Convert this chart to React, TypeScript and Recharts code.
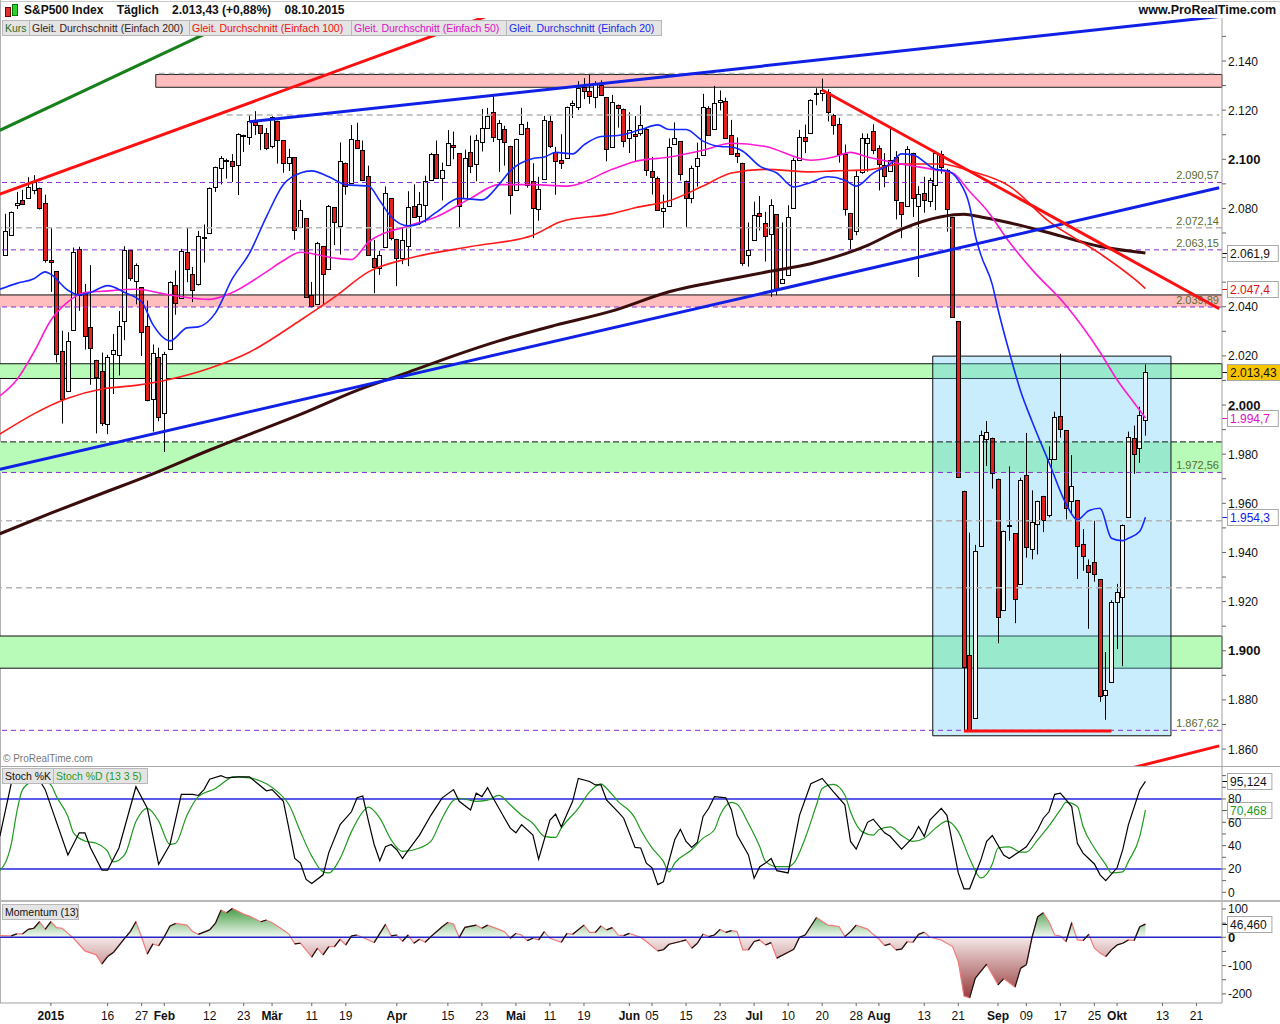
import React from "react";
import {
  ComposedChart, Bar, Line, Area, XAxis, YAxis, ReferenceLine, ReferenceArea,
} from "recharts";

const FONT = '"Liberation Sans", Arial, sans-serif';

// trading-day index: 0 = 02.01.2015, candles start at 19.12.2014 (-8)
const FIRST_IDX = -9;
const LAST_IDX = 206;
const CANDLE_START = -8;

const opens = [
  2061.04, 2069.28, 2081.48, 2083.25, 2084.30, 2087.63, 2088.49, 2082.11,
  2058.90, 2054.44, 2022.15, 2005.55, 2030.61, 2063.45, 2046.13, 2031.58, 2018.40, 2013.75,
  1992.25, 2020.76, 2020.19, 2034.30, 2062.98, 2050.42, 2047.86, 2032.34, 2002.45, 2019.35,
  1996.67, 2022.71, 2048.86, 2043.45, 2062.28, 2053.47, 2049.38, 2068.55, 2069.98, 2088.78,
  2096.47, 2099.16, 2099.25, 2097.65, 2109.83, 2109.10, 2115.30, 2113.91, 2110.88, 2105.23,
  2115.76, 2107.72, 2098.54, 2100.91, 2072.25, 2076.14, 2044.69, 2041.10, 2064.56, 2055.35,
  2080.59, 2072.84, 2098.69, 2090.32, 2107.99, 2103.94, 2093.10, 2059.94, 2055.78, 2064.11,
  2084.05, 2067.63, 2060.03, 2064.87, 2080.79, 2076.94, 2081.29, 2091.51, 2102.03, 2092.28,
  2097.82, 2105.96, 2102.58, 2084.11, 2102.82, 2098.27, 2107.21, 2112.80, 2119.29, 2108.35,
  2112.49, 2105.52, 2087.38, 2110.23, 2112.63, 2091.26, 2079.96, 2092.13, 2115.56, 2102.87,
  2099.62, 2100.43, 2122.07, 2121.30, 2129.45, 2127.79, 2125.55, 2130.36, 2125.34, 2105.13,
  2122.27, 2120.66, 2108.64, 2110.41, 2110.64, 2112.35, 2095.09, 2092.34, 2079.07, 2081.12,
  2106.24, 2107.43, 2091.34, 2084.26, 2097.40, 2101.58, 2121.06, 2112.50, 2123.16, 2123.65,
  2109.96, 2102.62, 2098.63, 2061.19, 2067.00, 2078.03, 2073.95, 2069.52, 2077.66, 2049.73,
  2052.74, 2080.03, 2099.72, 2109.01, 2110.55, 2126.80, 2126.85, 2127.55, 2118.21, 2114.16,
  2102.24, 2078.19, 2070.75, 2094.70, 2106.78, 2111.60, 2104.49, 2097.68, 2095.27, 2100.75,
  2082.61, 2080.98, 2102.66, 2081.10, 2086.19, 2083.15, 2089.70, 2101.99, 2095.69, 2076.61,
  2034.08, 1965.15, 1898.08, 1872.75, 1942.77, 1986.06, 1986.73, 1970.09, 1916.52, 1950.79,
  1947.76, 1927.30, 1971.45, 1941.59, 1951.45, 1963.06, 1955.10, 1978.02, 1995.33, 1989.66,
  1960.84, 1961.39, 1943.24, 1934.81, 1935.93, 1929.18, 1881.90, 1887.14, 1919.65, 1921.77,
  1954.33, 1986.63, 1982.34, 1994.01,
];
const highs = [
  2077.85, 2078.76, 2086.73, 2087.56, 2092.70, 2093.55, 2088.49, 2085.58,
  2072.36, 2054.44, 2030.25, 2029.61, 2064.08, 2064.43, 2049.30, 2056.93, 2018.40, 2021.35,
  2020.46, 2028.94, 2038.29, 2064.62, 2062.98, 2057.62, 2047.86, 2042.49, 2024.64, 2023.32,
  2021.66, 2050.30, 2054.74, 2063.55, 2072.40, 2056.16, 2070.86, 2073.48, 2088.53, 2097.03,
  2101.30, 2100.23, 2102.13, 2110.61, 2110.05, 2117.94, 2119.59, 2113.91, 2112.74, 2117.52,
  2115.76, 2107.72, 2104.25, 2100.91, 2083.49, 2076.14, 2050.08, 2066.41, 2064.56, 2081.41,
  2080.59, 2106.85, 2098.69, 2113.92, 2114.86, 2107.63, 2097.43, 2067.15, 2062.83, 2088.97,
  2084.05, 2067.63, 2072.17, 2086.99, 2089.81, 2086.69, 2093.31, 2102.61, 2107.65, 2098.62,
  2111.91, 2111.30, 2102.58, 2103.94, 2109.64, 2109.98, 2120.49, 2120.92, 2125.92, 2116.04,
  2113.65, 2105.52, 2108.41, 2120.95, 2115.24, 2098.42, 2092.90, 2117.66, 2117.69, 2105.06,
  2110.19, 2121.45, 2123.89, 2131.78, 2133.02, 2134.72, 2131.79, 2132.15, 2125.34, 2126.22,
  2122.27, 2120.66, 2119.15, 2117.59, 2121.92, 2112.89, 2100.99, 2093.01, 2085.62, 2108.50,
  2115.02, 2107.43, 2091.34, 2097.40, 2106.79, 2126.65, 2121.64, 2129.87, 2128.03, 2125.10,
  2116.04, 2108.92, 2098.63, 2074.28, 2082.78, 2085.06, 2078.61, 2083.74, 2077.66, 2074.28,
  2081.31, 2100.67, 2111.98, 2114.14, 2124.42, 2128.91, 2132.82, 2128.49, 2118.51, 2116.87,
  2106.01, 2078.19, 2095.60, 2110.60, 2110.48, 2114.24, 2105.70, 2102.51, 2112.66, 2103.32,
  2082.61, 2105.35, 2102.66, 2089.06, 2092.93, 2092.45, 2102.87, 2103.47, 2096.17, 2076.61,
  2034.08, 1965.15, 1948.04, 1943.09, 1989.60, 1993.48, 1986.73, 1970.09, 1948.91, 1975.01,
  1947.76, 1970.42, 1988.63, 1965.29, 1961.05, 1963.06, 1983.19, 1997.26, 2020.86, 1989.66,
  1979.64, 1961.39, 1949.52, 1937.17, 1952.89, 1929.18, 1899.48, 1920.53, 1927.21, 1951.36,
  1989.17, 1991.62, 1999.31, 2016.50,
];
const lows = [
  2061.03, 2069.28, 2079.77, 2081.86, 2084.30, 2085.75, 2079.53, 2057.94,
  2046.04, 2017.34, 1992.44, 2005.55, 2030.61, 2038.33, 2022.58, 2008.25, 1988.44, 1991.47,
  1988.12, 2004.49, 2012.04, 2026.38, 2050.54, 2040.97, 2019.91, 2001.49, 1989.18, 1993.38,
  1980.90, 2022.71, 2036.72, 2043.45, 2049.97, 2041.88, 2048.62, 2057.99, 2069.98, 2086.70,
  2089.80, 2092.15, 2090.79, 2085.44, 2103.00, 2105.87, 2109.89, 2103.76, 2103.75, 2104.50,
  2098.26, 2094.49, 2095.22, 2067.27, 2072.21, 2044.16, 2039.69, 2041.10, 2041.17, 2055.35,
  2065.08, 2061.23, 2085.56, 2090.32, 2104.42, 2091.50, 2061.05, 2045.50, 2052.96, 2064.11,
  2067.04, 2048.38, 2057.32, 2056.52, 2076.10, 2073.30, 2074.29, 2091.51, 2092.33, 2083.24,
  2097.82, 2100.02, 2072.37, 2084.11, 2094.38, 2091.05, 2103.19, 2112.80, 2107.04, 2094.89,
  2097.41, 2077.59, 2087.38, 2110.23, 2088.46, 2067.93, 2074.99, 2092.13, 2104.58, 2085.57,
  2096.04, 2100.43, 2116.81, 2120.01, 2124.50, 2122.59, 2120.80, 2126.06, 2099.18, 2105.13,
  2112.86, 2104.89, 2102.54, 2099.14, 2109.61, 2093.23, 2085.67, 2079.11, 2072.14, 2081.12,
  2106.24, 2091.33, 2072.49, 2082.10, 2088.86, 2101.58, 2109.45, 2112.50, 2119.89, 2108.58,
  2101.78, 2098.46, 2056.64, 2056.32, 2067.00, 2071.02, 2058.40, 2044.02, 2044.66, 2049.73,
  2052.74, 2080.03, 2099.72, 2102.49, 2110.55, 2122.01, 2123.66, 2115.40, 2110.00, 2098.63,
  2077.09, 2063.52, 2069.09, 2094.08, 2094.97, 2102.07, 2087.31, 2088.60, 2095.27, 2075.53,
  2067.91, 2080.98, 2076.49, 2052.09, 2078.26, 2080.61, 2079.30, 2094.14, 2070.53, 2035.73,
  1970.89, 1867.01, 1867.08, 1872.75, 1942.77, 1975.19, 1965.98, 1903.07, 1916.52, 1944.72,
  1911.21, 1927.30, 1937.88, 1937.19, 1939.19, 1948.27, 1954.30, 1977.93, 1986.73, 1953.45,
  1955.80, 1929.22, 1932.57, 1908.92, 1928.13, 1879.21, 1871.91, 1887.14, 1900.70, 1893.70,
  1954.33, 1971.99, 1976.44, 1987.53,
];
const closes = [
  2070.65, 2078.54, 2082.17, 2081.88, 2088.77, 2090.57, 2080.35, 2058.90,
  2058.20, 2020.58, 2002.61, 2025.90, 2062.14, 2044.81, 2028.26, 2023.03, 2011.27, 1992.67,
  2019.42, 2022.55, 2032.12, 2063.15, 2051.82, 2057.09, 2029.55, 2002.16, 2021.25, 1994.99,
  2020.85, 2050.03, 2041.51, 2062.52, 2055.47, 2046.74, 2068.59, 2068.53, 2088.48, 2096.99,
  2100.34, 2099.68, 2097.45, 2110.30, 2109.66, 2115.48, 2113.86, 2110.74, 2104.50, 2117.39,
  2107.78, 2098.53, 2101.04, 2071.26, 2079.43, 2044.16, 2040.24, 2065.95, 2053.40, 2081.19,
  2074.28, 2099.50, 2089.27, 2108.10, 2104.42, 2091.50, 2061.05, 2056.15, 2061.02, 2086.24,
  2067.89, 2059.69, 2066.96, 2080.62, 2076.33, 2081.90, 2091.18, 2102.06, 2092.43, 2095.84,
  2106.63, 2104.99, 2081.18, 2100.40, 2097.29, 2107.96, 2112.93, 2117.69, 2108.92, 2114.76,
  2106.85, 2085.51, 2108.29, 2114.49, 2089.46, 2080.15, 2088.00, 2116.10, 2105.33, 2099.12,
  2098.48, 2121.10, 2122.73, 2129.20, 2127.83, 2125.85, 2130.82, 2126.06, 2104.20, 2123.48,
  2120.79, 2107.39, 2111.73, 2109.60, 2114.07, 2095.84, 2092.83, 2079.28, 2080.15, 2105.20,
  2108.86, 2094.11, 2084.43, 2096.29, 2100.44, 2121.24, 2109.99, 2122.85, 2124.20, 2108.58,
  2102.31, 2101.49, 2057.64, 2063.11, 2077.42, 2076.78, 2068.76, 2081.34, 2046.68, 2051.31,
  2076.62, 2099.60, 2108.95, 2107.40, 2124.29, 2126.64, 2128.28, 2119.21, 2114.15, 2102.15,
  2079.65, 2067.64, 2093.25, 2108.57, 2108.63, 2103.84, 2098.04, 2093.32, 2099.84, 2083.56,
  2077.57, 2104.18, 2084.07, 2086.05, 2083.39, 2091.54, 2102.44, 2096.92, 2079.61, 2035.73,
  1970.89, 1893.21, 1867.61, 1940.51, 1987.66, 1988.87, 1972.18, 1913.85, 1948.86, 1951.13,
  1921.22, 1969.41, 1942.04, 1952.29, 1961.05, 1953.03, 1978.09, 1995.31, 1990.20, 1958.03,
  1966.97, 1942.74, 1938.76, 1932.24, 1931.34, 1881.77, 1884.09, 1920.03, 1923.82, 1951.36,
  1987.05, 1979.92, 1995.83, 2013.43,
];

// moving averages: [day index, value]
const ma200 = [
  [-9, 1947.6], [0, 1956], [9, 1964], [18, 1972], [28, 1981.7], [36, 1989], [44, 1996.2],
  [54, 2006], [63, 2013.3], [71, 2020], [79, 2026.1], [89, 2032.5], [99, 2038.3], [109, 2046.1],
  [120, 2051.4], [127, 2054.5], [134, 2057.5], [140, 2061.5], [144, 2065], [150, 2071.6],
  [157, 2076.6], [161, 2077.6], [164, 2076.5], [169, 2074.2], [176, 2070.1], [185, 2064.5], [193, 2061.9],
];
const ma100 = [
  [-9, 1988.2], [3, 2002.8], [9, 2006.5], [15, 2008], [21, 2010.5], [28, 2015], [35, 2021.5],
  [44, 2034.5], [50, 2043.9], [56, 2054.2], [63, 2059.6], [74, 2064.5], [85, 2069.1], [90, 2074.7],
  [99, 2077.9], [103, 2080.3], [109, 2083.1], [115, 2089.1], [120, 2094.4], [126, 2095.9],
  [134, 2094.9], [138, 2095.3], [144, 2095.7], [150, 2098.1], [157, 2098.1], [162, 2095.3],
  [169, 2089.1], [176, 2074.7], [185, 2061.6], [191, 2051.4], [193, 2047.4],
];
const ma50 = [
  [-9, 2003.7], [-6, 2010.3], [-3, 2021.5], [0, 2034.5], [3, 2042], [6, 2045.8], [9, 2046.3],
  [15, 2047.1], [21, 2044.8], [28, 2043], [32, 2045.8], [38, 2054.2], [41, 2058.8], [44, 2062.2],
  [50, 2059.8], [53, 2059.2], [56, 2066.3], [63, 2072.9], [68, 2076.6], [74, 2084.1], [79, 2089.7],
  [85, 2089.7], [91, 2089.1], [99, 2095.9], [103, 2099.1], [109, 2100.9], [115, 2103.7],
  [120, 2106.5], [126, 2105.2], [134, 2099.6], [138, 2100.9], [141, 2102.8], [144, 2100.9],
  [150, 2098.1], [156, 2095.7], [159, 2094.4], [162, 2086.9], [165, 2079.4], [169, 2066.3],
  [173, 2055.1], [179, 2040.5], [185, 2021.5], [188, 2010.3], [191, 2000.9], [193, 1994.7],
];
const ma20 = [
  [-9, 2047.1], [-6, 2049.5], [-3, 2051.4], [-1, 2054.2], [0, 2053.2], [3, 2046.7], [5, 2044.8],
  [7, 2045.8], [10, 2048.6], [13, 2045.8], [16, 2042], [18, 2032.7], [21, 2026.1], [24, 2031.4],
  [26, 2031.8], [29, 2037.4], [32, 2051.4], [35, 2061.7], [38, 2076.6], [41, 2089.7], [44, 2094.4],
  [46, 2095.3], [49, 2092.9], [52, 2089.7], [56, 2089.1], [58, 2083.1], [60, 2076.6], [63, 2072.9],
  [65, 2073.8], [68, 2078.5], [72, 2084.1], [76, 2083.5], [79, 2089.7], [81, 2095.3], [85, 2100.3],
  [87, 2100.9], [89, 2102.8], [92, 2102.2], [94, 2105.9], [97, 2109.3], [100, 2109.7], [104, 2112.1],
  [107, 2114], [109, 2112.1], [112, 2112.1], [115, 2107.4], [118, 2105.2], [120, 2105], [122, 2103.3],
  [125, 2097.2], [128, 2094.4], [131, 2088.7], [134, 2090.6], [137, 2092.9], [140, 2091.5],
  [142, 2089.1], [145, 2094.4], [148, 2098.1], [150, 2102.2], [152, 2101.8], [156, 2095.9],
  [158, 2095.3], [160, 2091.5], [162, 2081], [163, 2069], [164, 2061], [166, 2049], [167, 2039],
  [169, 2021.5], [171, 2005.6], [173, 1993.4], [176, 1976.6], [179, 1959.8], [181, 1953.3],
  [183, 1957], [185, 1958], [187, 1945.8], [189, 1944.8], [190, 1945.8], [192, 1948.6], [193, 1954.3],
];

const stochK = [
  [-9, 48], [-7, 93], [-6, 99], [-5, 99], [-2, 96], [-1, 88], [3, 32], [5, 51], [6, 51], [7, 38],
  [9, 19], [10, 19], [12, 38], [15, 90.5], [17, 72], [19, 24], [21, 41], [23, 84], [25, 84], [26, 83],
  [27, 88], [28, 97], [30, 100], [31, 98], [33, 99], [35, 99], [36, 95], [38, 87], [39, 88], [41, 78],
  [42, 54], [43, 29], [44, 25], [45, 11], [46, 7.5], [48, 15], [49, 34], [51, 58], [53, 69], [54, 81],
  [55, 82.5], [56, 61], [57, 41], [58, 27], [59, 39], [60, 41], [61, 36.5], [62, 29], [63, 36],
  [65, 49], [67, 66], [69, 81], [71, 88], [72, 78], [74, 70.6], [75, 85], [76, 82], [77, 89.7],
  [78, 80.6], [80, 63.5], [81, 55], [82, 51], [83, 58], [85, 49], [86, 28.5], [88, 62], [89, 67],
  [90, 56], [92, 78], [93, 97.6], [95, 95], [96, 92], [97, 92], [98, 79], [100, 69], [101, 63.5],
  [103, 38.5], [104, 38], [105, 25], [106, 21], [107, 6.6], [108, 9], [110, 45], [111, 54],
  [112, 43.6], [113, 38.5], [114, 43], [115, 65], [116, 72], [117, 82], [119, 81], [120, 70.6],
  [121, 49], [123, 32], [124, 12], [125, 22], [126, 25], [127, 29], [128, 18.6], [130, 16.6],
  [132, 66], [134, 93], [136, 97.6], [138, 86], [140, 75], [141, 43.6], [142, 37], [144, 60],
  [145, 62.7], [147, 51], [148, 48], [150, 37], [152, 47], [153, 56.4], [154, 48], [155, 62],
  [157, 72], [158, 66], [160, 16.6], [161, 3], [162, 3], [164, 28], [165, 43.6], [166, 48.7],
  [168, 32], [169, 29], [171, 35.6], [172, 39], [174, 53.6], [175, 63.5], [176, 69], [177, 84],
  [178, 85], [180, 73.5], [181, 42], [182, 33.6], [184, 24.3], [185, 15], [186, 10], [188, 21],
  [189, 36.5], [190, 58], [192, 87.7], [193, 95.124],
];
const stochD = [
  [-9, 18.6], [-7, 41], [-6, 69], [-5, 88], [-3, 96], [-2, 97.6], [0, 92], [1, 82], [3, 65], [4, 51],
  [6, 44], [8, 42], [10, 35], [11, 26], [13, 32], [15, 60.7], [17, 72], [19, 61], [21, 41], [22, 42],
  [24, 66], [26, 82], [29, 89], [31, 96], [32, 99], [35, 98], [38, 93], [40, 86], [42, 75], [44, 52],
  [46, 31], [48, 17.5], [49, 16.6], [51, 29], [53, 52], [55, 69], [56, 73], [58, 63.5], [60, 45],
  [62, 35], [65, 38], [67, 43.6], [69, 63.5], [71, 79], [72, 80.6], [75, 78], [77, 79], [79, 83],
  [81, 75], [83, 66], [85, 59], [87, 48], [89, 47], [90, 55], [93, 72], [95, 86], [97, 93], [98, 89],
  [100, 78], [103, 63.5], [104, 53.6], [106, 38], [108, 26.5], [109, 17.4], [110, 25], [113, 36.5],
  [115, 46.4], [117, 53.6], [118, 66], [120, 77], [121, 75.5], [123, 59], [125, 39], [126, 26.5],
  [128, 22], [130, 22], [131, 25], [133, 46.4], [135, 75], [136, 89], [138, 92.5], [140, 83.4],
  [141, 69], [143, 52], [145, 49], [146, 53.6], [148, 56], [150, 48.7], [152, 43.6], [154, 46.4],
  [156, 55], [158, 61], [160, 52], [162, 29], [164, 12.3], [166, 24.3], [167, 38], [169, 39],
  [171, 34.5], [172, 34.5], [174, 45], [176, 57], [178, 70.6], [179, 77], [181, 73.5], [182, 56.4],
  [184, 38], [186, 23.7], [187, 16.6], [189, 17.5], [190, 26.5], [192, 48], [193, 70.468],
];
const momentum = [
  [-9, 6], [-7, 5], [-6, 12], [-5, 12], [-4, 28], [-3, 32], [-2, 55], [-1, 28], [0, 55], [1, 34],
  [2, 32], [3, 14], [4, -3.5], [6, -48], [8, -62], [9, -94], [10, -68], [11, -54], [13, -3.5],
  [14, 20], [15, 55], [16, 0], [17, -58.5], [18, -23.4], [19, -30], [20, 2], [21, 40], [22, 49],
  [24, 43], [25, 20], [26, 10.5], [28, 26], [29, 49], [30, 96], [31, 86.6], [32, 102], [34, 82],
  [35, 75], [37, 55], [38, 61], [39, 51.5], [41, 26], [42, 10.5], [43, -23.4], [44, -21], [46, -70],
  [47, -38.6], [48, -62], [49, -32.8], [50, -32.8], [51, -7], [52, -27], [53, 4.7], [54, 8],
  [56, -9.4], [57, -18.7], [59, 45.6], [60, 4.7], [61, 8], [62, -14], [63, 8], [64, -21], [65, -7],
  [66, -17.5], [67, 2.3], [69, 37.4], [70, 52.7], [71, 46.8], [72, -1], [73, 35], [75, 43],
  [76, 31.6], [77, 43], [79, 28], [80, 20], [81, -3.5], [82, 14], [83, 8], [84, -11.7], [85, -3.5],
  [86, -9.4], [87, 20], [88, -3.5], [90, -17.5], [91, 14], [92, 10.5], [94, 43], [95, 17.6],
  [96, 17.6], [97, 40], [98, 26], [99, 34], [100, 8], [101, 6], [102, 14], [104, 0], [105, -15],
  [107, -48], [108, -44], [109, -24.6], [111, -15], [112, -9.4], [113, -38.6], [114, -21],
  [115, 11.7], [116, 2.3], [117, 8], [118, 28], [119, 17.6], [120, 23.4], [121, 20], [122, -44.5],
  [123, -44.5], [124, -15], [125, -9.4], [126, -27], [127, -18.7], [128, -73.7], [130, -52.7],
  [131, -42], [132, 0], [133, 8], [135, 70], [137, 43], [138, 41], [139, 37.4], [140, 2.3],
  [141, 20], [142, 43], [144, 29], [145, 10.5], [146, -6], [147, -29], [148, -23.4], [149, -44.5],
  [150, -42], [151, -15], [152, -17.5], [153, 10.5], [154, 17.6], [155, 0], [157, -9.4],
  [159, -32.8], [160, -85.4], [161, -208], [162, -214], [163, -144], [165, -95], [167, -168],
  [168, -146], [170, -175.5], [171, -109], [172, -97], [173, 0], [174, 72.5], [175, 86.6],
  [176, 55], [177, 8], [178, 4.7], [179, -15], [180, 51.5], [181, -9.4], [182, -11.7], [183, 10.5],
  [184, -38.6], [185, -56], [186, -68], [187, -44.5], [188, -27], [189, -21], [190, -9.4],
  [191, -11.7], [192, 37.4], [193, 46.46],
];

const dateTicks = [
  { i: 0, text: "2015", bold: true }, { i: 10, text: "16" }, { i: 16, text: "27" },
  { i: 20, text: "Feb", bold: true }, { i: 28, text: "12" }, { i: 34, text: "23" },
  { i: 39, text: "Mär", bold: true }, { i: 46, text: "11" }, { i: 52, text: "19" },
  { i: 61, text: "Apr", bold: true }, { i: 70, text: "15" }, { i: 76, text: "23" },
  { i: 82, text: "Mai", bold: true }, { i: 88, text: "11" }, { i: 94, text: "19" },
  { i: 102, text: "Jun", bold: true }, { i: 106, text: "05" }, { i: 112, text: "15" }, { i: 118, text: "23" },
  { i: 124, text: "Jul", bold: true }, { i: 130, text: "10" }, { i: 136, text: "20" }, { i: 142, text: "28" },
  { i: 146, text: "Aug", bold: true }, { i: 154, text: "13" }, { i: 160, text: "21" },
  { i: 167, text: "Sep", bold: true }, { i: 172, text: "09" }, { i: 178, text: "17" }, { i: 184, text: "25" },
  { i: 188, text: "Okt", bold: true }, { i: 196, text: "13" }, { i: 202, text: "21" },
];

const priceTicks = [
  1860, 1870, 1880, 1890, 1900, 1910, 1920, 1930, 1940, 1950, 1960, 1970, 1980, 1990, 2000,
  2010, 2020, 2030, 2040, 2050, 2060, 2070, 2080, 2090, 2100, 2110, 2120, 2130, 2140, 2150,
];
const stochTicks = [0, 10, 20, 30, 40, 50, 60, 70, 80, 90, 100];
const momTicks = [-200, -150, -100, -50, 0, 50, 100];

const toMap = (pts: number[][]) => new Map(pts.map(([i, v]) => [i, v]));
const m200 = toMap(ma200), m100 = toMap(ma100), m50 = toMap(ma50), m20 = toMap(ma20);
const mK = toMap(stochK), mD = toMap(stochD), mMom = toMap(momentum);
const tickByIdx = new Map(dateTicks.map((t) => [t.i, t]));

const rows = Array.from({ length: LAST_IDX - FIRST_IDX + 1 }, (_, k) => {
  const i = FIRST_IDX + k;
  const j = i - CANDLE_START;
  const has = j >= 0 && j < closes.length;
  return {
    i,
    o: has ? opens[j] : null,
    h: has ? highs[j] : null,
    l: has ? lows[j] : null,
    c: has ? closes[j] : null,
    range: has ? [lows[j], highs[j]] : null,
    ma200: m200.get(i) ?? null,
    ma100: m100.get(i) ?? null,
    ma50: m50.get(i) ?? null,
    ma20: m20.get(i) ?? null,
    k: mK.get(i) ?? null,
    d: mD.get(i) ?? null,
    mom: mMom.get(i) ?? null,
  };
});

// rising momentum legs are drawn black, falling ones stay salmon
const momUp = momentum.slice(1).map((p, n) => [momentum[n], p]).filter(([a, b]) => b[1] > a[1]);

const fmtInt = (v: number) => {
  const a = Math.abs(v);
  const s = a >= 1000 ? `${Math.floor(a / 1000)}.${String(a % 1000).padStart(3, "0")}` : String(a);
  return v < 0 ? `-${s}` : s;
};

function Candle(props: any) {
  const { x, y, width, height, payload } = props;
  if (!payload || payload.o == null || !isFinite(y) || !isFinite(height)) return null;
  const { o, h, l, c } = payload;
  const top = Math.min(y, y + height);
  const hh = Math.abs(height);
  const py = (p: number) => (h === l ? top : top + ((h - p) / (h - l)) * hh);
  const cx = Math.round(x + width / 2) + 0.5;
  const bt = Math.round(py(Math.max(o, c))) + 0.5;
  const bb = Math.max(bt + 1, Math.round(py(Math.min(o, c))) + 0.5);
  const up = c >= o;
  return (
    <g>
      <line x1={cx} x2={cx} y1={top} y2={top + hh} stroke="#000" strokeWidth={1} />
      <rect x={cx - 2} y={bt} width={4} height={bb - bt} fill={up ? "#f4f4f4" : "#e3201c"} stroke="#000" strokeWidth={1} />
    </g>
  );
}

// labels that sit under a value flag on the right axis are left out
function AxisTick(props: any) {
  const { x, y, payload, major, bold, covered } = props;
  const v = payload.value;
  const isMajor = v % major === 0 && !(covered || []).includes(v);
  const isBold = bold != null && v % bold === 0;
  return (
    <g>
      <line x1={x - 6} x2={x - 2} y1={y} y2={y} stroke="#666" />
      {isMajor && (
        <text x={x} y={y} dy={4.5} fontSize={isBold ? 13 : 12} fontWeight={isBold ? 700 : 400} fill="#111">
          {fmtInt(v)}
        </text>
      )}
    </g>
  );
}

function DateTick(props: any) {
  const { x, y, payload } = props;
  const t = tickByIdx.get(payload.value);
  if (!t) return null;
  return (
    <g>
      <line x1={x} x2={x} y1={y} y2={y + 3} stroke="#666" />
      <text x={x} y={y + 17} textAnchor="middle" fontSize={12} fontWeight={t.bold ? 700 : 400} fill="#111">
        {t.text}
      </text>
    </g>
  );
}

function Flag(props: any) {
  const { viewBox, text, color, bg } = props;
  if (!viewBox) return null;
  const ax = viewBox.x + viewBox.width;
  const y = Math.round(viewBox.y) + 0.5;
  const w = text.length * 6.4 + 6;
  return (
    <g>
      <line x1={ax} x2={ax + 5} y1={y} y2={y} stroke={color} />
      <rect x={ax + 5.5} y={y - 8} width={w} height={16} fill={bg} stroke="#a8a8a8" />
      <text x={ax + 8} y={y + 4.5} fontSize={12} fill={color}>{text}</text>
    </g>
  );
}

function LevelText(props: any) {
  const { viewBox, text } = props;
  if (!viewBox) return null;
  return (
    <text x={viewBox.x + viewBox.width - 3} y={viewBox.y - 3} textAnchor="end" fontSize={11} fill="#5b6a2c">
      {text}
    </text>
  );
}

const PURPLE = "#8a2ad0";
const GRAY = "#b4b4b4";

function LegendBox({ left, width, text, color }: { left: number; width: number; text: string; color: string }) {
  return (
    <div style={{
      position: "absolute", left, top: 0, width, height: 14, background: "#e4e4e4", border: "1px solid #b8b8b8",
      fontSize: 10.5, lineHeight: "14px", color, paddingLeft: 2, whiteSpace: "nowrap", overflow: "hidden", boxSizing: "content-box",
    }}>{text}</div>
  );
}

export default function App() {
  return (
    <div style={{ position: "absolute", left: 0, top: 0, width: 1280, height: 1024, overflow: "hidden", background: "#fff", fontFamily: FONT }}>
      {/* header */}
      <div style={{ position: "absolute", left: 0, top: 1, width: 1280, height: 1, background: "#c8c8c8" }} />
      <div style={{ position: "absolute", left: 0, top: 0, width: 1, height: 1003, background: "#b0b0b0" }} />
      <div style={{ position: "absolute", left: 5, top: 7, width: 4, height: 8, background: "#e03030", border: "1px solid #700" }} />
      <div style={{ position: "absolute", left: 12, top: 4, width: 4, height: 10, background: "#30d030", border: "1px solid #070" }} />
      <div style={{ position: "absolute", left: 24, top: 3, fontSize: 12, fontWeight: 700, whiteSpace: "pre", color: "#111" }}>
        {"S&P500 Index    Täglich    2.013,43 (+0,88%)    08.10.2015"}
      </div>
      <div style={{ position: "absolute", right: 4, top: 3, fontSize: 12.5, fontWeight: 700, color: "#111" }}>www.ProRealTime.com</div>

      {/* price panel */}
      <div style={{ position: "absolute", left: -3, top: 18 }}>
        <ComposedChart width={1283} height={748} data={rows} margin={{ top: 0, right: 0, bottom: 0, left: 0 }}>
          <XAxis dataKey="i" type="category" scale="band" hide />
          <YAxis orientation="right" width={58} type="number" domain={[1853.1, 2157.5]} allowDataOverflow
            ticks={priceTicks} interval={0} tickSize={0} tickMargin={6} axisLine={{ stroke: "#a0a0a0" }} tickLine={false}
            tick={<AxisTick major={20} bold={100} covered={[2060]} />} />

          <ReferenceArea y1={2129.3} y2={2134.5} x1={19} x2={LAST_IDX} fill="#ffbdbd" fillOpacity={1} stroke="#222" />
          <ReferenceArea y1={2039.89} y2={2044.8} fill="#ffbdbd" fillOpacity={1} />
          <ReferenceArea y1={2010.8} y2={2016.8} fill="#b8fbb8" fillOpacity={1} stroke="#111" />
          <ReferenceArea y1={1972.56} y2={1985.0} fill="#b8fbb8" fillOpacity={1} />
          <ReferenceArea y1={1892.9} y2={1906.0} fill="#b8fbb8" fillOpacity={1} stroke="#111" />
          <ReferenceArea x1={156} x2={197} y1={1865.4} y2={2019.9} fill="#5ac8f5" fillOpacity={0.33} stroke="#111" />

          <ReferenceLine stroke={GRAY} strokeWidth={1.5} strokeDasharray="6 4" segment={[{ x: 19, y: 2134.9 }, { x: LAST_IDX, y: 2134.9 }]} />
          <ReferenceLine stroke={GRAY} strokeWidth={1.5} strokeDasharray="6 4" segment={[{ x: 31, y: 2118 }, { x: LAST_IDX, y: 2118 }]} />
          <ReferenceLine y={2090.57} stroke={PURPLE} strokeDasharray="5 4" label={<LevelText text="2.090,57" />} />
          <ReferenceLine y={2072.14} stroke={GRAY} strokeWidth={1.5} strokeDasharray="6 4" label={<LevelText text="2.072,14" />} />
          <ReferenceLine y={2063.15} stroke={PURPLE} strokeDasharray="5 4" label={<LevelText text="2.063,15" />} />
          <ReferenceLine y={2044.8} stroke="#111" />
          <ReferenceLine y={2039.89} stroke={PURPLE} strokeDasharray="5 4" label={<LevelText text="2.039,89" />} />
          <ReferenceLine y={1985.0} stroke="#111" strokeDasharray="6 3" />
          <ReferenceLine y={1972.56} stroke={PURPLE} strokeDasharray="5 4" label={<LevelText text="1.972,56" />} />
          <ReferenceLine y={1952.9} stroke={GRAY} strokeWidth={1.5} strokeDasharray="6 4" />
          <ReferenceLine y={1925.6} stroke={GRAY} strokeWidth={1.5} strokeDasharray="6 4" />
          <ReferenceLine y={1867.62} stroke={PURPLE} strokeDasharray="5 4" label={<LevelText text="1.867,62" />} />

          <Bar dataKey="range" barSize={5} shape={<Candle />} isAnimationActive={false} />

          <Line dataKey="ma200" type="monotone" stroke="#3a0d0d" strokeWidth={3} dot={false} activeDot={false} connectNulls isAnimationActive={false} />
          <Line dataKey="ma100" type="monotone" stroke="#ff1a1a" strokeWidth={1.6} dot={false} activeDot={false} connectNulls isAnimationActive={false} />
          <Line dataKey="ma50" type="monotone" stroke="#ff1ad2" strokeWidth={1.6} dot={false} activeDot={false} connectNulls isAnimationActive={false} />
          <Line dataKey="ma20" type="monotone" stroke="#1428ff" strokeWidth={1.6} dot={false} activeDot={false} connectNulls isAnimationActive={false} />

          <ReferenceLine stroke="#17801a" strokeWidth={3} ifOverflow="hidden" segment={[{ x: -9, y: 2111.8 }, { x: 30, y: 2154.1 }]} />
          <ReferenceLine stroke="#ff1010" strokeWidth={3} ifOverflow="hidden" segment={[{ x: -9, y: 2085.8 }, { x: 80, y: 2160.9 }]} />
          <ReferenceLine stroke="#1020e6" strokeWidth={3} ifOverflow="hidden" segment={[{ x: 35, y: 2115.3 }, { x: 206, y: 2158.1 }]} />
          <ReferenceLine stroke="#1020e6" strokeWidth={3} ifOverflow="hidden" segment={[{ x: -9, y: 1973.8 }, { x: 206, y: 2088.4 }]} />
          <ReferenceLine stroke="#ff1010" strokeWidth={3} ifOverflow="hidden" segment={[{ x: 136, y: 2128.2 }, { x: 206, y: 2039.2 }]} />
          <ReferenceLine stroke="#ff1010" strokeWidth={3} ifOverflow="hidden" segment={[{ x: 188, y: 1850.8 }, { x: 206, y: 1861.3 }]} />
          <ReferenceLine stroke="#ff1010" strokeWidth={3} segment={[{ x: 161, y: 1867.3 }, { x: 187, y: 1867.3 }]} />

          <ReferenceLine y={2061.9} stroke="none" label={<Flag text="2.061,9" color="#111" bg="#fff" />} />
          <ReferenceLine y={2047.4} stroke="none" label={<Flag text="2.047,4" color="#e01010" bg="#fff" />} />
          <ReferenceLine y={2013.43} stroke="none" label={<Flag text="2.013,43" color="#111" bg="#f7c400" />} />
          <ReferenceLine y={1994.7} stroke="none" label={<Flag text="1.994,7" color="#e010c8" bg="#fff" />} />
          <ReferenceLine y={1954.3} stroke="none" label={<Flag text="1.954,3" color="#1020f0" bg="#fff" />} />
        </ComposedChart>
      </div>

      <div style={{ position: "absolute", left: 2, top: 20 }}>
        <LegendBox left={0} width={24} text="Kurs" color="#2d6b1f" />
        <LegendBox left={27} width={157} text="Gleit. Durchschnitt (Einfach 200)" color="#3b2020" />
        <LegendBox left={187} width={159} text="Gleit. Durchschnitt (Einfach 100)" color="#f01010" />
        <LegendBox left={349} width={152} text="Gleit. Durchschnitt (Einfach 50)" color="#e010c8" />
        <LegendBox left={504} width={152} text="Gleit. Durchschnitt (Einfach 20)" color="#1a2af0" />
      </div>
      <div style={{ position: "absolute", left: 3, top: 753, fontSize: 10, color: "#777" }}>© ProRealTime.com</div>

      {/* stochastic panel */}
      <div style={{ position: "absolute", left: 0, top: 766, width: 1280, height: 1, background: "#a8a8a8" }} />
      <div style={{ position: "absolute", left: -3, top: 767 }}>
        <ComposedChart width={1283} height={133} data={rows} margin={{ top: 0, right: 0, bottom: 0, left: 0 }}>
          <XAxis dataKey="i" type="category" scale="band" hide />
          <YAxis orientation="right" width={58} type="number" domain={[-6.6, 107.4]} allowDataOverflow
            ticks={stochTicks} interval={0} tickSize={0} tickMargin={6} axisLine={{ stroke: "#a0a0a0" }} tickLine={false}
            tick={<AxisTick major={20} covered={[100]} />} />
          <ReferenceLine y={80} stroke="#2424e0" strokeWidth={1.5} />
          <ReferenceLine y={20} stroke="#2424e0" strokeWidth={1.5} />
          <Line dataKey="d" type="monotone" stroke="#1f9a1f" strokeWidth={1.2} dot={false} activeDot={false} connectNulls isAnimationActive={false} />
          <Line dataKey="k" type="linear" stroke="#000" strokeWidth={1.2} dot={false} activeDot={false} connectNulls isAnimationActive={false} />
          <ReferenceLine y={95.124} stroke="none" label={<Flag text="95,124" color="#111" bg="#fff" />} />
          <ReferenceLine y={70.468} stroke="none" label={<Flag text="70,468" color="#1f9a1f" bg="#fff" />} />
        </ComposedChart>
      </div>
      <div style={{ position: "absolute", left: 2, top: 768 }}>
        <LegendBox left={0} width={48} text="Stoch %K" color="#111" />
        <LegendBox left={51} width={91} text="Stoch %D (13 3 5)" color="#1f9a1f" />
      </div>

      {/* momentum panel */}
      <div style={{ position: "absolute", left: 0, top: 900, width: 1280, height: 2, background: "#b8b8b8" }} />
      <div style={{ position: "absolute", left: -3, top: 902 }}>
        <ComposedChart width={1283} height={122} data={rows} margin={{ top: 0, right: 0, bottom: 0, left: 0 }}>
          <defs>
            <linearGradient id="momFill" x1="0" y1="0" x2="0" y2="101" gradientUnits="userSpaceOnUse">
              <stop offset="0.05" stopColor="#3f9a3f" />
              <stop offset="0.34" stopColor="#eef7ee" />
              <stop offset="0.355" stopColor="#f4e6e6" />
              <stop offset="0.92" stopColor="#9c4444" />
            </linearGradient>
          </defs>
          <XAxis dataKey="i" type="category" scale="band" height={21} interval={0} tickSize={0} tickMargin={0}
            axisLine={{ stroke: "#a0a0a0" }} tickLine={false} tick={<DateTick />} />
          <YAxis orientation="right" width={58} type="number" domain={[-232.2, 124.7]} allowDataOverflow
            ticks={momTicks} interval={0} tickSize={0} tickMargin={6} axisLine={{ stroke: "#a0a0a0" }} tickLine={false}
            tick={<AxisTick major={100} bold={1000} />} />
          <Area dataKey="mom" type="linear" baseValue={0} fill="url(#momFill)" fillOpacity={1} stroke="#f07a7a" strokeWidth={1.2}
            dot={false} activeDot={false} connectNulls isAnimationActive={false} />
          <ReferenceLine y={0} stroke="#2424c8" strokeWidth={1.5} />
          {momUp.map(([a, b], n) => (
            <ReferenceLine key={n} stroke="#111" strokeWidth={1.2} segment={[{ x: a[0], y: a[1] }, { x: b[0], y: b[1] }]} />
          ))}
          <ReferenceLine y={46.46} stroke="none" label={<Flag text="46,460" color="#111" bg="#fff" />} />
        </ComposedChart>
      </div>
      <div style={{ position: "absolute", left: 2, top: 904 }}>
        <LegendBox left={0} width={73} text="Momentum (13)" color="#111" />
      </div>
    </div>
  );
}
